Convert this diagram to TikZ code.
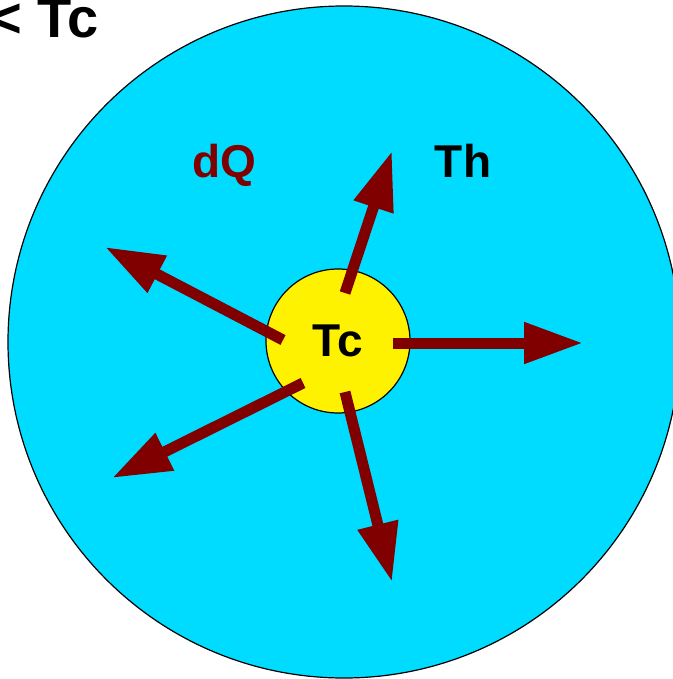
\documentclass[tikz,border=0pt]{standalone}
\usepackage{fontspec}
\setmainfont{Liberation Sans}
\usetikzlibrary{arrows.meta}
\definecolor{hotcyan}{HTML}{00DCFF}
\definecolor{heatred}{HTML}{800000}

\begin{document}
\begin{tikzpicture}[x=0.5pt,y=-0.5pt,
                    tag/.style={font=\bfseries\fontsize{23}{23}\selectfont,inner sep=0pt},
                    body/.style={circle,draw,line width=0.6pt,inner sep=0pt},
                    flux/.style={draw=heatred,line width=5.5pt,
                                 -{Triangle[length=29.5pt,width=19.5pt]}}]
  \useasboundingbox (0,0) rectangle (673,679);
  \node[body,fill=hotcyan,minimum size=336pt] (hot) at (344,342) {};
  \node[body,fill=yellow,minimum size=72pt,tag] (core) at (338,341) {Tc};
  % shafts start inside the yellow disc, so their ends are coordinates
  \coordinate (s1) at (345,293); \coordinate (t1) at (392,151);
  \coordinate (s2) at (393,343); \coordinate (t2) at (583,343);
  \coordinate (s3) at (283,340); \coordinate (t3) at (105,247);
  \coordinate (s4) at (303,383); \coordinate (t4) at (112,478);
  \coordinate (s5) at (345,392); \coordinate (t5) at (392,582);
  \draw[flux] (s1) -- (t1);
  \draw[flux] (s2) -- (t2);
  \draw[flux] (s3) -- (t3);
  \draw[flux] (s4) -- (t4);
  \draw[flux] (s5) -- (t5);
  \node[tag,text=heatred,anchor=base] (dq) at (224,177) {dQ};
  \node[tag,anchor=base] (th) at (463,178) {Th};
  \node[tag,font=\bfseries\fontsize{28}{28}\selectfont,anchor=base east]
    (title) at (99,38) {< Tc};
\end{tikzpicture}
\end{document}
